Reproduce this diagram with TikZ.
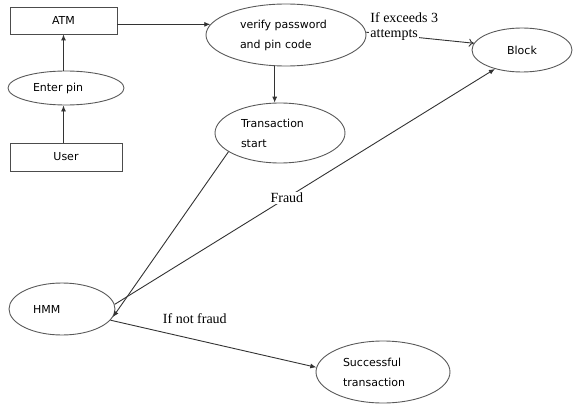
\documentclass[tikz,border=0pt]{standalone}
\usepackage{fontspec}
\setmainfont{Liberation Serif}
\newfontfamily\boxfont{DejaVu Sans}
\usetikzlibrary{arrows.meta,shapes.geometric,positioning}

\begin{document}
\begin{tikzpicture}[x=1pt,y=-1pt,line width=0.9pt,
    every node/.style={font=\boxfont\fontsize{11}{20}\selectfont},
    box/.style={draw=black!70,inner sep=0pt},
    oval/.style={draw=black!65,ellipse,inner sep=0pt,align=left},
    edge/.style={draw=black!80,-{Latex[length=6pt,width=5pt]}},
    note/.style={font=\fontsize{14}{16}\selectfont,inner sep=1pt}]
    	\useasboundingbox (0,0) rectangle (573,404);

    	\node[box,minimum width=107pt,minimum height=27pt] (atm) at (63.5,20.5) {ATM};
    	\node[oval,minimum width=116pt,minimum height=34pt,text width=66pt] (enter) at (66,88) {Enter pin};
    	\node[box,minimum width=112pt,minimum height=28pt] (user) at (66,157) {User};
    	\node[oval,minimum width=160pt,minimum height=62pt,text width=92pt] (verify) at (286,35) {verify password\\and pin code};
    	\node[oval,minimum width=130pt,minimum height=60pt,text width=78pt] (trans) at (280,133) {Transaction\\start};
    	\node[oval,minimum width=100pt,minimum height=44pt] (block) at (522,50) {Block};
    	\node[oval,minimum width=106pt,minimum height=52pt,text width=58pt] (hmm) at (62,309) {HMM};
    	\node[oval,minimum width=134pt,minimum height=62pt,text width=80pt] (succ) at (383,372) {Successful\\transaction};

    	% login path
    	\draw[edge] (user.north -| atm.south) -- (enter.south -| atm.south);
    	\draw[edge] (enter.north -| atm.south) -- (atm.south);
    	\draw[edge] (atm.east |- verify.172) -- (verify.172);
    	\draw[edge] (trans.100 |- verify.south) -- (trans.100);
    	\draw[draw=black!80,-{To[length=5pt,width=8pt]}] (verify.2) -- node[pos=0.26,fill=white,note] (att) {attempts} (block.172);
    	\node[note,anchor=south west] (exceeds) at ([yshift=4pt]att.north west) {If exceeds 3};

    	% fraud check
    	\draw[edge] (trans.200) -- (hmm.351);
    	\draw[edge] (hmm.5) -- node[pos=0.453,fill=white,note] (fraud) {Fraud} (block.215);
    	\draw[edge] (hmm.347) -- node[pos=0.41,above=14pt,note] (notfraud) {If not fraud} (succ.176);
    	\end{tikzpicture}
\end{document}
